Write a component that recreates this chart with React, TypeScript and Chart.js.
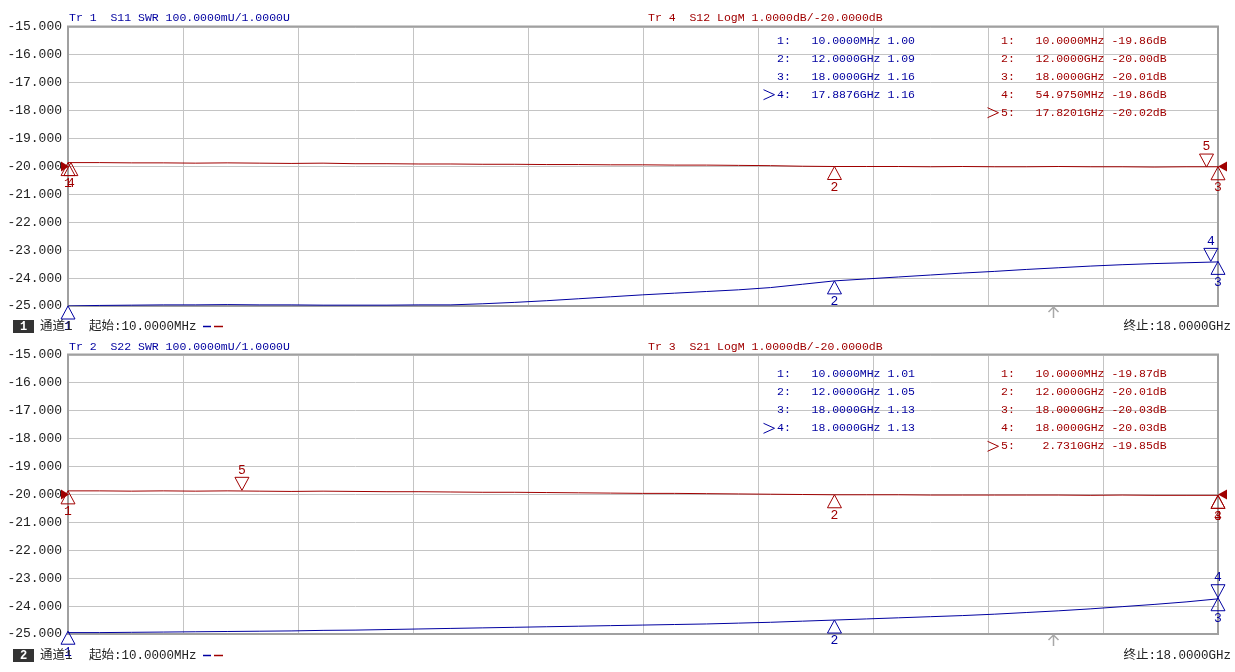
import { useEffect, useRef } from "react";
import { Chart, registerables } from "chart.js";

Chart.register(...registerables);

// ---------- data ----------
const freqGHz = [
  0.01, 0.5, 1.0, 1.5, 2.0, 2.5, 3.0, 3.5, 4.0, 4.5, 5.0, 5.5, 6.0, 6.5, 7.0, 7.5, 8.0, 8.5, 9.0,
  9.5, 10.0, 10.5, 11.0, 11.5, 12.0, 12.5, 13.0, 13.5, 14.0, 14.5, 15.0, 15.5, 16.0, 16.5, 17.0,
  17.5, 18.0,
];

// Tr 1: S11 SWR (U)
const s11Swr = [
  1.0, 1.002, 1.003, 1.004, 1.004, 1.005, 1.004, 1.004, 1.003, 1.003, 1.003, 1.004, 1.004, 1.008,
  1.013, 1.019, 1.026, 1.033, 1.04, 1.046, 1.052, 1.058, 1.066, 1.078, 1.09, 1.097, 1.104, 1.111,
  1.118, 1.124, 1.131, 1.137, 1.143, 1.148, 1.152, 1.155, 1.158,
];
// Tr 4: S12 LogM (dB)
const s12Db = [
  -19.86, -19.86, -19.87, -19.87, -19.88, -19.87, -19.88, -19.89, -19.88, -19.9, -19.9, -19.91,
  -19.91, -19.92, -19.92, -19.93, -19.93, -19.94, -19.94, -19.95, -19.95, -19.96, -19.97, -19.99,
  -20.0, -20.0, -20.0, -20.01, -20.0, -20.01, -20.01, -20.0, -20.01, -20.01, -20.02, -20.01, -20.01,
];
// Tr 2: S22 SWR (U)
const s22Swr = [
  1.005, 1.005, 1.006, 1.007, 1.008, 1.009, 1.01, 1.011, 1.013, 1.014, 1.016, 1.018, 1.02, 1.022,
  1.024, 1.026, 1.028, 1.03, 1.032, 1.034, 1.036, 1.039, 1.042, 1.046, 1.05, 1.054, 1.058, 1.062,
  1.066, 1.071, 1.077, 1.083, 1.09, 1.098, 1.106, 1.115, 1.126,
];
// Tr 3: S21 LogM (dB)
const s21Db = [
  -19.87, -19.87, -19.88, -19.87, -19.88, -19.87, -19.88, -19.89, -19.88, -19.89, -19.9, -19.9,
  -19.91, -19.92, -19.92, -19.93, -19.94, -19.95, -19.96, -19.96, -19.97, -19.98, -19.99, -20.0,
  -20.01, -20.01, -20.01, -20.02, -20.02, -20.02, -20.02, -20.02, -20.03, -20.02, -20.03, -20.03,
  -20.03,
];

// markers
const s11MarkerFreqs = [0.01, 12, 18, 17.8876];
const s11MarkerValues = [1.0, 1.09, 1.16, 1.16];
const s12MarkerFreqs = [0.01, 12, 18, 0.054975, 17.8201];
const s12MarkerValues = [-19.86, -20.0, -20.01, -19.86, -20.02];
const s22MarkerFreqs = [0.01, 12, 18, 18];
const s22MarkerValues = [1.01, 1.05, 1.13, 1.13];
const s21MarkerFreqs = [0.01, 12, 18, 18, 2.731];
const s21MarkerValues = [-19.87, -20.01, -20.03, -20.03, -19.85];

const yTickValues = [-15, -16, -17, -18, -19, -20, -21, -22, -23, -24, -25];
const startFreqGHz = 0.01;
const stopFreqGHz = 18;
const refLevelDb = -20;
const arrowFreqGHz = 15.42;

// ---------- style ----------
const BLUE = "#0000a0";
const RED = "#a00000";
const GRID = "#c4c4c4";
const FRAME = "#a0a0a0";
const MONO = "'Liberation Mono', 'DejaVu Sans Mono', 'Noto Sans CJK SC', monospace";

// SWR trace: 100 mU/div, reference 1.0000 U at the bottom line (-25 on the dB grid)
const swrToGrid = (v: number) => -25 + (v - 1) * 10;

const fmtFreq = (f: number) =>
  (f < 1 ? (f * 1000).toFixed(4) + "MHz" : f.toFixed(4) + "GHz").padStart(10, " ");

type Panel = {
  padTop: number;
  padBottom: number;
  headerY: number;
  tableY: number;
  footerY: number;
  channel: string;
  swrTitle: string;
  dbTitle: string;
  swr: number[];
  db: number[];
  swrMkF: number[];
  swrMkV: number[];
  dbMkF: number[];
  dbMkV: number[];
};

const panels: Panel[] = [
  {
    padTop: 27,
    padBottom: 30,
    headerY: 18,
    tableY: 40.7,
    footerY: 326.5,
    channel: "1",
    swrTitle: "Tr 1  S11 SWR 100.0000mU/1.0000U",
    dbTitle: "Tr 4  S12 LogM 1.0000dB/-20.0000dB",
    swr: s11Swr,
    db: s12Db,
    swrMkF: s11MarkerFreqs,
    swrMkV: s11MarkerValues,
    dbMkF: s12MarkerFreqs,
    dbMkV: s12MarkerValues,
  },
  {
    padTop: 19,
    padBottom: 38,
    headerY: 10.7,
    tableY: 38.3,
    footerY: 319.5,
    channel: "2",
    swrTitle: "Tr 2  S22 SWR 100.0000mU/1.0000U",
    dbTitle: "Tr 3  S21 LogM 1.0000dB/-20.0000dB",
    swr: s22Swr,
    db: s21Db,
    swrMkF: s22MarkerFreqs,
    swrMkV: s22MarkerValues,
    dbMkF: s21MarkerFreqs,
    dbMkV: s21MarkerValues,
  },
];

function overlayPlugin(p: Panel) {
  return {
    id: "vnaOverlay" + p.channel,
    beforeDatasetsDraw(chart: any) {
      const ctx = chart.ctx;
      const a = chart.chartArea;
      ctx.save();
      ctx.strokeStyle = FRAME;
      ctx.lineWidth = 2;
      ctx.strokeRect(a.left, a.top - 0.5, a.right - a.left, a.bottom - a.top + 0.5);
      ctx.restore();
    },
    afterDatasetsDraw(chart: any) {
      const ctx = chart.ctx;
      const a = chart.chartArea;
      const xs = chart.scales.x;
      const ys = chart.scales.y;
      ctx.save();

      // headers
      ctx.textBaseline = "middle";
      ctx.textAlign = "left";
      ctx.font = `11.5px ${MONO}`;
      ctx.fillStyle = BLUE;
      ctx.fillText(p.swrTitle, 69, p.headerY);
      ctx.fillStyle = RED;
      ctx.fillText(p.dbTitle, 648, p.headerY);

      // marker tables
      const drawChevron = (x: number, y: number, color: string) => {
        ctx.strokeStyle = color;
        ctx.lineWidth = 1;
        ctx.beginPath();
        ctx.moveTo(x, y - 5);
        ctx.lineTo(x + 11, y);
        ctx.lineTo(x, y + 5);
        ctx.stroke();
      };
      p.swrMkF.forEach((f, i) => {
        const y = p.tableY + i * 18;
        ctx.fillStyle = BLUE;
        ctx.fillText(`${i + 1}:   ${fmtFreq(f)} ${p.swrMkV[i].toFixed(2)}`, 777, y);
        if (i === p.swrMkF.length - 1) drawChevron(763.5, y, BLUE);
      });
      p.dbMkF.forEach((f, i) => {
        const y = p.tableY + i * 18;
        ctx.fillStyle = RED;
        ctx.fillText(`${i + 1}:   ${fmtFreq(f)} ${p.dbMkV[i].toFixed(2)}dB`, 1001, y);
        if (i === p.dbMkF.length - 1) drawChevron(987.5, y, RED);
      });

      // reference level arrows for the LogM trace
      const yr = ys.getPixelForValue(refLevelDb);
      ctx.fillStyle = RED;
      ctx.beginPath();
      ctx.moveTo(a.left - 7, yr - 5);
      ctx.lineTo(a.left + 1, yr);
      ctx.lineTo(a.left - 7, yr + 5);
      ctx.closePath();
      ctx.fill();
      ctx.beginPath();
      ctx.moveTo(a.right + 9, yr - 5);
      ctx.lineTo(a.right, yr);
      ctx.lineTo(a.right + 9, yr + 5);
      ctx.closePath();
      ctx.fill();

      // markers
      const drawMarker = (x: number, y: number, n: number, active: boolean, color: string) => {
        ctx.strokeStyle = color;
        ctx.fillStyle = color;
        ctx.lineWidth = 1;
        ctx.beginPath();
        if (active) {
          ctx.moveTo(x, y);
          ctx.lineTo(x - 7, y - 13);
          ctx.lineTo(x + 7, y - 13);
        } else {
          ctx.moveTo(x, y);
          ctx.lineTo(x - 7, y + 13);
          ctx.lineTo(x + 7, y + 13);
        }
        ctx.closePath();
        ctx.stroke();
        ctx.font = `13px ${MONO}`;
        ctx.textAlign = "center";
        ctx.fillText(String(n), x, active ? y - 20 : y + 21);
      };
      p.dbMkF.forEach((f, i) => {
        drawMarker(
          xs.getPixelForValue(f),
          ys.getPixelForValue(p.dbMkV[i]),
          i + 1,
          i === p.dbMkF.length - 1,
          RED
        );
      });
      p.swrMkF.forEach((f, i) => {
        drawMarker(
          xs.getPixelForValue(f),
          ys.getPixelForValue(swrToGrid(p.swrMkV[i])),
          i + 1,
          i === p.swrMkF.length - 1,
          BLUE
        );
      });

      // small gray arrow under the grid
      const ax = Math.round(xs.getPixelForValue(arrowFreqGHz)) + 0.5;
      ctx.strokeStyle = "#a8a8a8";
      ctx.lineWidth = 1.5;
      ctx.beginPath();
      ctx.moveTo(ax, a.bottom + 1);
      ctx.lineTo(ax, a.bottom + 12);
      ctx.moveTo(ax - 5, a.bottom + 6);
      ctx.lineTo(ax, a.bottom + 1);
      ctx.lineTo(ax + 5, a.bottom + 6);
      ctx.stroke();

      // footer
      const fy = p.footerY;
      ctx.fillStyle = "#333333";
      ctx.fillRect(13, fy - 6.5, 21, 13);
      ctx.fillStyle = "#ffffff";
      ctx.font = `bold 12px ${MONO}`;
      ctx.textAlign = "center";
      ctx.fillText(p.channel, 23.5, fy + 0.5);
      ctx.fillStyle = "#222222";
      ctx.textAlign = "left";
      ctx.font = `12.5px ${MONO}`;
      ctx.fillText("通道1", 40, fy);
      ctx.fillText(`起始:${(startFreqGHz * 1000).toFixed(4)}MHz`, 89, fy);
      ctx.textAlign = "right";
      ctx.fillText(`终止:${stopFreqGHz.toFixed(4)}GHz`, 1231, fy);
      ctx.lineWidth = 1.5;
      ctx.strokeStyle = BLUE;
      ctx.beginPath();
      ctx.moveTo(203, fy);
      ctx.lineTo(211, fy);
      ctx.stroke();
      ctx.strokeStyle = RED;
      ctx.beginPath();
      ctx.moveTo(214, fy);
      ctx.lineTo(223, fy);
      ctx.stroke();

      ctx.restore();
    },
  };
}

function makeChart(canvas: HTMLCanvasElement, p: Panel) {
  const redData = freqGHz.map((f, i) => ({ x: f, y: p.db[i] }));
  const blueData = freqGHz.map((f, i) => ({ x: f, y: swrToGrid(p.swr[i]) }));
  return new Chart(canvas, {
    type: "line",
    data: {
      datasets: [
        { data: redData, borderColor: RED, borderWidth: 1, pointRadius: 0, tension: 0 },
        { data: blueData, borderColor: BLUE, borderWidth: 1, pointRadius: 0, tension: 0 },
      ],
    },
    options: {
      responsive: false,
      animation: false,
      devicePixelRatio: 1,
      layout: { padding: { left: 0, right: 17, top: p.padTop, bottom: p.padBottom } },
      plugins: { legend: { display: false }, tooltip: { enabled: false } },
      scales: {
        x: {
          type: "linear",
          min: startFreqGHz,
          max: stopFreqGHz,
          afterBuildTicks: (s: any) => {
            const t = [];
            for (let i = 0; i <= 10; i++)
              t.push({ value: startFreqGHz + ((stopFreqGHz - startFreqGHz) * i) / 10 });
            s.ticks = t;
          },
          afterFit: (s: any) => {
            s.height = 0;
          },
          ticks: { display: false },
          grid: { color: GRID, drawTicks: false, lineWidth: 1 },
          border: { display: false },
        },
        y: {
          min: -25,
          max: -15,
          afterBuildTicks: (s: any) => {
            s.ticks = yTickValues.map((v) => ({ value: v }));
          },
          afterFit: (s: any) => {
            s.width = 68;
          },
          ticks: {
            callback: (v: any) => Number(v).toFixed(3),
            font: { family: MONO, size: 13 },
            color: "#222222",
            padding: 6,
          },
          grid: { color: GRID, drawTicks: false, lineWidth: 1 },
          border: { display: false },
        },
      },
    } as any,
    plugins: [overlayPlugin(p)],
  });
}

export default function App() {
  const topRef = useRef<HTMLCanvasElement>(null);
  const botRef = useRef<HTMLCanvasElement>(null);
  useEffect(() => {
    const c1 = makeChart(topRef.current!, panels[0]);
    const c2 = makeChart(botRef.current!, panels[1]);
    return () => {
      c1.destroy();
      c2.destroy();
    };
  }, []);
  return (
    <div
      style={{
        position: "absolute",
        left: 0,
        top: 0,
        width: 1235,
        height: 672,
        background: "#ffffff",
        overflow: "hidden",
      }}
    >
      <canvas
        ref={topRef}
        width={1235}
        height={336}
        style={{ position: "absolute", left: 0, top: 0, width: 1235, height: 336 }}
      />
      <canvas
        ref={botRef}
        width={1235}
        height={336}
        style={{ position: "absolute", left: 0, top: 336, width: 1235, height: 336 }}
      />
    </div>
  );
}
